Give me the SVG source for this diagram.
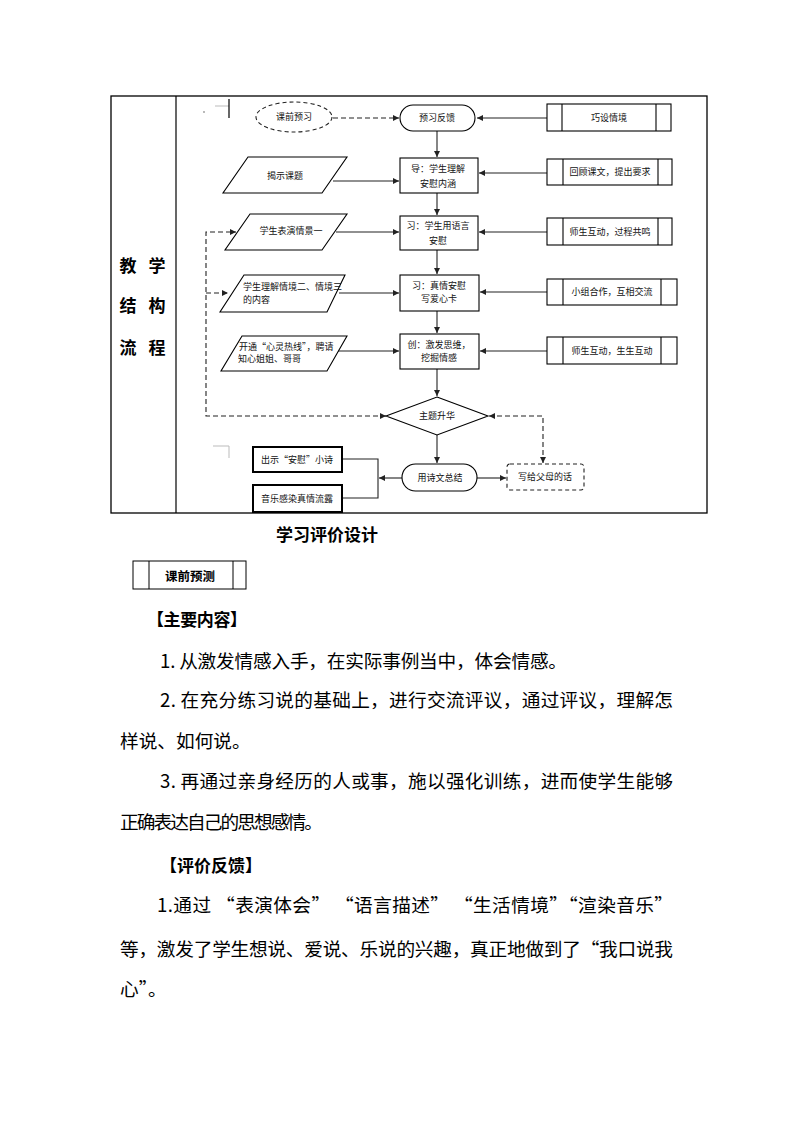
<svg xmlns="http://www.w3.org/2000/svg" width="794" height="1123" viewBox="0 0 794 1123">
<style>
.n{fill:#fff;stroke:#000;stroke-width:1.1}
.nd{fill:#fff;stroke:#222;stroke-width:1.1;stroke-dasharray:4 3}
.thick{fill:#fff;stroke:#000;stroke-width:2}
.c{fill:none;stroke:#222;stroke-width:1.1}
.cd{fill:none;stroke:#222;stroke-width:1.1;stroke-dasharray:5 3}
.t{font-family:"Noto Sans CJK SC","Noto Sans CJK JP",sans-serif;font-size:9px;fill:#111}
.tc{text-anchor:middle}
.b{font-family:"Noto Sans CJK SC","Noto Sans CJK JP",sans-serif;font-size:18.67px;fill:#000}
.h{font-family:"Noto Sans CJK SC","Noto Sans CJK JP",sans-serif;font-weight:bold;fill:#000}
</style>
<defs>
<marker id="ar" markerWidth="6" markerHeight="6" refX="6" refY="3" orient="auto-start-reverse" markerUnits="userSpaceOnUse">
<path d="M0,0 L6,3 L0,6 z" fill="#222"/>
</marker>
</defs>
<rect width="794" height="1123" fill="#fff"/>

<g id="table">
<rect x="111" y="96" width="596" height="417" fill="none" stroke="#000" stroke-width="1.3"/>
<line x1="176" y1="96" x2="176" y2="513" stroke="#000" stroke-width="1.2"/>
<text class="h tc" x="128" y="272" font-size="17">教</text>
<text class="h tc" x="157" y="272" font-size="17">学</text>
<text class="h tc" x="128" y="312" font-size="17">结</text>
<text class="h tc" x="157" y="312" font-size="17">构</text>
<text class="h tc" x="128" y="354" font-size="17">流</text>
<text class="h tc" x="157" y="354" font-size="17">程</text>
<line x1="215" y1="106" x2="229" y2="106" stroke="#bbb" stroke-width="1"/>
<line x1="229" y1="99" x2="229" y2="118" stroke="#000" stroke-width="1.2"/>
<circle cx="204" cy="112" r="0.9" fill="#999"/>
<path d="M213,446 L229,446 L229,458" fill="none" stroke="#bbb" stroke-width="1"/>
</g>

<g id="connectors">
<path class="cd" d="M333,118 L399,118" marker-end="url(#ar)"/>
<path class="c" d="M547,118 L477,118" marker-end="url(#ar)"/>
<path class="c" d="M437,131 L437,157" marker-end="url(#ar)"/>
<path class="c" d="M333,181 L399,181" marker-end="url(#ar)"/>
<path class="c" d="M547,173 L479,173" marker-end="url(#ar)"/>
<path class="c" d="M437,193 L437,215" marker-end="url(#ar)"/>
<path class="c" d="M336,232 L399,232" marker-end="url(#ar)"/>
<path class="c" d="M547,232 L479,232" marker-end="url(#ar)"/>
<path class="c" d="M437,250 L437,274" marker-end="url(#ar)"/>
<path class="c" d="M339,293 L399,293" marker-end="url(#ar)"/>
<path class="c" d="M547,292 L480,292" marker-end="url(#ar)"/>
<path class="c" d="M437,311 L437,333" marker-end="url(#ar)"/>
<path class="c" d="M337,351 L399,351" marker-end="url(#ar)"/>
<path class="c" d="M547,351 L480,351" marker-end="url(#ar)"/>
<path class="c" d="M437,369 L437,396" marker-end="url(#ar)"/>
<path class="c" d="M437,435 L437,463" marker-end="url(#ar)"/>
<path class="c" d="M477,478 L506,478" marker-end="url(#ar)"/>
<path class="c" d="M402,478 L379,478" marker-end="url(#ar)"/>
<path class="c" d="M342,459 L378,459 L378,498 L342,498"/>
<path class="cd" d="M386,416 L206,416 L206,232 L236,232" marker-start="url(#ar)" marker-end="url(#ar)"/>
<path class="cd" d="M206,293 L228,293" marker-end="url(#ar)"/>
<path class="cd" d="M543,463 L543,416 L489,416" marker-start="url(#ar)" marker-end="url(#ar)"/>
</g>

<g id="n-kqyx"><ellipse class="nd" cx="294" cy="117" rx="38" ry="15"/><text class="t tc" x="294" y="120">课前预习</text></g>
<g id="n-yxfk"><rect class="n" x="400" y="105" width="75" height="26" rx="13"/><text class="t tc" x="437" y="121">预习反馈</text></g>
<g id="n-qsqj"><rect class="n" x="547" y="104" width="124" height="27"/><line class="n" x1="562" y1="104" x2="562" y2="131"/><line class="n" x1="656" y1="104" x2="656" y2="131"/><text class="t tc" x="609" y="121">巧设情境</text></g>

<g id="n-jskt"><polygon class="n" points="248,157 347,157 322,193 223,193"/><text class="t tc" x="285" y="179">揭示课题</text></g>
<g id="n-dao"><rect class="n" x="400" y="158" width="78" height="35"/><text class="t tc" x="438" y="172">导：学生理解</text><text class="t tc" x="438" y="187">安慰内涵</text></g>
<g id="n-hgkw"><rect class="n" x="547" y="159" width="125" height="26"/><line class="n" x1="563" y1="159" x2="563" y2="185"/><line class="n" x1="658" y1="159" x2="658" y2="185"/><text class="t tc" x="610" y="175">回顾课文，提出要求</text></g>

<g id="n-bygj"><polygon class="n" points="250,214 347,214 322,250 225,250"/><text class="t tc" x="291" y="234">学生表演情景一</text></g>
<g id="n-xi1"><rect class="n" x="400" y="216" width="78" height="34"/><text class="t tc" x="438" y="229">习：学生用语言</text><text class="t tc" x="438" y="244">安慰</text></g>
<g id="n-ssgm"><rect class="n" x="547" y="218" width="125" height="27"/><line class="n" x1="563" y1="218" x2="563" y2="245"/><line class="n" x1="658" y1="218" x2="658" y2="245"/><text class="t tc" x="610" y="235">师生互动，过程共鸣</text></g>

<g id="n-ljqj"><polygon class="n" points="244,275 345,275 327,312 220,312"/><text class="t" x="243" y="290" font-size="8.5">学生理解情境二、情境三</text><text class="t" x="243" y="303" font-size="8.5">的内容</text></g>
<g id="n-xi2"><rect class="n" x="400" y="275" width="79" height="36"/><text class="t tc" x="439" y="289">习：真情安慰</text><text class="t tc" x="439" y="302">写爱心卡</text></g>
<g id="n-xzhz"><rect class="n" x="547" y="279" width="130" height="26"/><line class="n" x1="563" y1="279" x2="563" y2="305"/><line class="n" x1="661" y1="279" x2="661" y2="305"/><text class="t tc" x="612" y="295">小组合作，互相交流</text></g>

<g id="n-xlrx"><polygon class="n" points="242,336 347,336 327,371 221,371"/><text class="t" x="239" y="350" font-size="8.5">开通“心灵热线”，聘请</text><text class="t" x="238" y="362" font-size="8.5">知心姐姐、哥哥</text></g>
<g id="n-chuang"><rect class="n" x="400" y="334" width="79" height="35"/><text class="t tc" x="439" y="348">创：激发思维，</text><text class="t tc" x="439" y="361">挖掘情感</text></g>
<g id="n-ssss"><rect class="n" x="547" y="337" width="130" height="27"/><line class="n" x1="563" y1="337" x2="563" y2="364"/><line class="n" x1="661" y1="337" x2="661" y2="364"/><text class="t tc" x="612" y="354">师生互动，生生互动</text></g>

<g id="n-ztsh"><polygon class="n" points="437,397 488,416 437,435 386,416"/><text class="t tc" x="437" y="419">主题升华</text></g>
<g id="n-yswzj"><rect class="n" x="402" y="464" width="75" height="27" rx="13.5"/><text class="t tc" x="440" y="481">用诗文总结</text></g>
<g id="n-xgfm"><rect class="nd" x="507" y="464" width="77" height="26" rx="3"/><text class="t tc" x="545" y="480">写给父母的话</text></g>
<g id="n-csxs"><rect class="thick" x="253" y="447" width="89" height="25"/><text class="t tc" x="297" y="463">出示“安慰”小诗</text></g>
<g id="n-yygr"><rect class="thick" x="253" y="485" width="89" height="27"/><text class="t tc" x="297" y="502">音乐感染真情流露</text></g>

<g id="body">
<text class="h tc" x="327" y="541" font-size="17">学习评价设计</text>
<rect x="133" y="561" width="113" height="28" fill="none" stroke="#000" stroke-width="1"/>
<line x1="149" y1="561" x2="149" y2="589" stroke="#000" stroke-width="1"/>
<line x1="233" y1="561" x2="233" y2="589" stroke="#000" stroke-width="1"/>
<text class="h tc" x="190" y="581" font-size="12.5">课前预测</text>
<text class="h" x="147" y="626" font-size="17" textLength="100" lengthAdjust="spacing">【主要内容】</text>
<text class="b" x="160" y="668" textLength="407" lengthAdjust="spacing">1. 从激发情感入手，在实际事例当中，体会情感。</text>
<text class="b" x="160" y="707" textLength="513" lengthAdjust="spacing">2. 在充分练习说的基础上，进行交流评议，通过评议，理解怎</text>
<text class="b" x="120" y="748">样说、如何说。</text>
<text class="b" x="160" y="788" textLength="513" lengthAdjust="spacing">3. 再通过亲身经历的人或事，施以强化训练，进而使学生能够</text>
<text class="b" x="120" y="829" textLength="203" lengthAdjust="spacing">正确表达自己的思想感情。</text>
<text class="h" x="160" y="872" font-size="17" textLength="102" lengthAdjust="spacing">【评价反馈】</text>
<text class="b" x="157" y="912" textLength="516" lengthAdjust="spacing">1.通过 “表演体会” “语言描述” “生活情境”“渲染音乐”</text>
<text class="b" x="120" y="956" textLength="553" lengthAdjust="spacing">等，激发了学生想说、爱说、乐说的兴趣，真正地做到了“我口说我</text>
<text class="b" x="120" y="996">心”。</text>
</g>
</svg>
